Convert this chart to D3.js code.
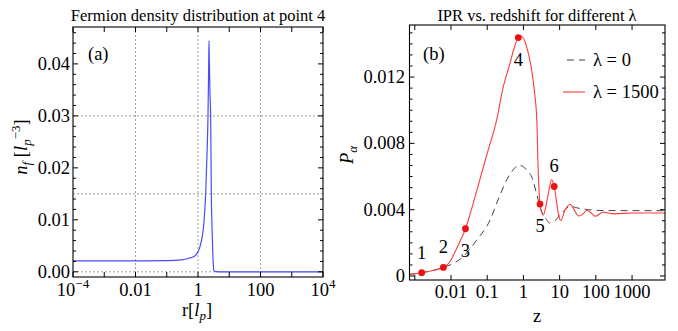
<!DOCTYPE html>
<html><head><meta charset="utf-8">
<script src="https://cdn.jsdelivr.net/npm/d3@7"></script>
</head>
<body style="margin:0;background:#fff"><svg id="c" width="678" height="331" font-family="Liberation Serif"></svg>
<script>
// ---------- DATA ----------
// Panel (a): fermion density n_f vs r
const rVals = [1e-4, 1e-3, 0.01, 0.1, 0.3, 0.51, 0.8, 0.95, 1.15, 1.37, 1.55, 1.76, 1.95, 2.09, 2.2, 2.25, 2.3, 2.4, 2.54, 2.67, 2.87, 3.05, 3.25, 3.6, 5, 10, 100, 1e4];
const nVals = [0.0021, 0.0021, 0.0021, 0.00215, 0.0023, 0.0026, 0.0031, 0.0036, 0.0048, 0.0068, 0.0095, 0.015, 0.023, 0.030, 0.040, 0.0445, 0.041, 0.035, 0.030, 0.015, 0.0068, 0.002, 0.0002, 0.00002, 0, 0, 0, 0];
const aXTicks = [1e-4, 1e-3, 0.01, 0.1, 1, 10, 100, 1000, 1e4];
const aXLabels = ["10^-4", "", "0.01", "", "1", "", "100", "", "10^4"];
const aYTicks = [0, 0.01, 0.02, 0.03, 0.04];
const aYLabels = ["0.00", "0.01", "0.02", "0.03", "0.04"];
const aGridX = [0.01, 1, 100];
const aGridY = [0, 0.015, 0.03];

// Panel (b): IPR vs redshift (log10 z)
const redLogZ = [-3.146, -2.81, -2.5, -2.21, -2.1, -2.03, -1.9, -1.75, -1.6, -1.52, -1.36, -1.0, -0.74, -0.555, -0.37, -0.25, -0.14, -0.05, 0.05, 0.15, 0.23, 0.3, 0.37, 0.41, 0.458, 0.51, 0.55, 0.62, 0.69, 0.78, 0.85, 0.92, 0.98, 1.03, 1.15, 1.29, 1.4, 1.52, 1.63, 1.75, 1.87, 1.98, 2.2, 2.5, 3.0, 3.91];
const redP    = [0.00010, 0.0002, 0.00033, 0.00052, 0.00068, 0.00086, 0.0014, 0.0021, 0.00285, 0.00338, 0.00459, 0.0074, 0.0094, 0.01142, 0.01283, 0.0138, 0.01438, 0.01445, 0.0141, 0.0133, 0.0124, 0.0112, 0.0094, 0.0062, 0.00434, 0.0038, 0.00368, 0.0042, 0.0050, 0.0058, 0.0054, 0.0044, 0.0036, 0.00335, 0.00398, 0.00433, 0.0040, 0.00362, 0.0037, 0.00398, 0.0038, 0.0036, 0.00385, 0.00375, 0.0038, 0.0038];
const blackLogZ = [-3.146, -2.81, -2.5, -2.21, -2.03, -1.7, -1.29, -0.92, -0.7, -0.46, -0.2, -0.14, 0.09, 0.26, 0.37, 0.5, 0.64, 0.72, 0.85, 1.06, 1.3, 1.5, 1.8, 2.2, 3.91];
const blackP    = [0.00010, 0.0002, 0.00033, 0.00052, 0.00066, 0.0011, 0.00217, 0.00338, 0.0046, 0.0058, 0.0066, 0.0067, 0.0064, 0.0058, 0.0049, 0.0039, 0.0034, 0.0032, 0.0033, 0.0038, 0.0042, 0.0041, 0.0040, 0.00395, 0.00394];
const markLogZ = [-2.81, -2.21, -1.6, -0.14, 0.458, 0.85];
const markP    = [0.0002, 0.00052, 0.00285, 0.01438, 0.00434, 0.0054];
const markNames = ["1", "2", "3", "4", "5", "6"];
const bXTicks = [0.001, 0.01, 0.1, 1, 10, 100, 1000];
const bXLabels = ["", "0.01", "0.1", "1", "10", "100", "1000"];
const bYTicks = [0, 0.004, 0.008, 0.012];
const bYLabels = ["0", "0.004", "0.008", "0.012"];
const legendNames = ["λ = 0", "λ = 1500"];

// ---------- DRAW ----------
const svg = d3.select("#c");
const FS = 18.5;
const TFS = 16.5;

function sciLabel(sel, s) {
  if (s.includes("^")) {
    const [b, e] = s.split("^");
    sel.append("tspan").text(b);
    sel.append("tspan").attr("dy", -8).attr("font-size", 13).text(e.replace("-", "\u2212"));
  } else sel.text(s);
}

function frameTicks(g, x, y, xt, yt, xMinor, yMinor) {
  const [x0, x1] = x.range(), [y0, y1] = y.range();
  const tk = (sel) => sel.attr("stroke", "#000").attr("stroke-width", 1);
  xt.forEach(v => {
    const px = x(v);
    tk(g.append("line").attr("x1", px).attr("x2", px).attr("y1", y0).attr("y2", y0 - 5));
    tk(g.append("line").attr("x1", px).attr("x2", px).attr("y1", y1).attr("y2", y1 + 5));
  });
  xMinor.forEach(v => {
    const px = x(v);
    tk(g.append("line").attr("x1", px).attr("x2", px).attr("y1", y0).attr("y2", y0 - 3));
    tk(g.append("line").attr("x1", px).attr("x2", px).attr("y1", y1).attr("y2", y1 + 3));
  });
  yt.forEach(v => {
    const py = y(v);
    tk(g.append("line").attr("x1", x0).attr("x2", x0 + 5).attr("y1", py).attr("y2", py));
    tk(g.append("line").attr("x1", x1).attr("x2", x1 - 5).attr("y1", py).attr("y2", py));
  });
  yMinor.forEach(v => {
    const py = y(v);
    tk(g.append("line").attr("x1", x0).attr("x2", x0 + 3).attr("y1", py).attr("y2", py));
    tk(g.append("line").attr("x1", x1).attr("x2", x1 - 3).attr("y1", py).attr("y2", py));
  });
  g.append("rect").attr("x", x0).attr("y", y1).attr("width", x1 - x0).attr("height", y0 - y1)
    .attr("fill", "none").attr("stroke", "#000").attr("stroke-width", 1.1);
}

// ---- Panel (a) ----
{
  const x = d3.scaleLog().domain([1e-4, 1e4]).range([73, 323]);
  const y = d3.scaleLinear().domain([-0.001, 0.0471]).range([277, 27]);
  const g = svg.append("g");
  const grid = g.append("g").attr("stroke", "#888").attr("stroke-width", 0.8).attr("stroke-dasharray", "2,2");
  aGridX.forEach(v => grid.append("line").attr("x1", x(v)).attr("x2", x(v)).attr("y1", 27).attr("y2", 277));
  aGridY.forEach(v => grid.append("line").attr("x1", 73).attr("x2", 323).attr("y1", y(v)).attr("y2", y(v)));

  const pts = rVals.map((r, i) => [r, nVals[i]]);
  g.append("path").datum(pts)
    .attr("d", d3.line().x(d => x(d[0])).y(d => y(d[1])).curve(d3.curveMonotoneX))
    .attr("fill", "none").attr("stroke", "#4a4aff").attr("stroke-width", 1.2);

  const yMinor = d3.range(0, 0.0461, 0.002).filter(v => Math.abs(v / 0.01 - Math.round(v / 0.01)) > 1e-6);
  frameTicks(g, x, y, aXTicks, aYTicks, [], yMinor);

  aYTicks.forEach((v, i) => g.append("text").attr("x", 70).attr("y", y(v) + 6)
    .attr("text-anchor", "end").attr("font-size", FS).text(aYLabels[i]));
  aXTicks.forEach((v, i) => {
    if (!aXLabels[i]) return;
    const t = g.append("text").attr("x", x(v)).attr("y", 296).attr("text-anchor", "middle").attr("font-size", FS);
    sciLabel(t, aXLabels[i]);
  });
  const xt = g.append("text").attr("x", 197).attr("y", 316).attr("text-anchor", "middle").attr("font-size", FS);
  xt.append("tspan").text("r[");
  xt.append("tspan").attr("font-style", "italic").text("l");
  xt.append("tspan").attr("dy", 4).attr("font-size", 13).attr("font-style", "italic").text("p");
  xt.append("tspan").attr("dy", -4).text("]");
  const yt = g.append("text").attr("transform", "translate(27,147) rotate(-90)").attr("text-anchor", "middle").attr("font-size", FS);
  yt.append("tspan").attr("font-style", "italic").text("n");
  yt.append("tspan").attr("dy", 4).attr("font-size", 13).attr("font-style", "italic").text("f");
  yt.append("tspan").attr("dy", -4).text(" [");
  yt.append("tspan").attr("font-style", "italic").text("l");
  yt.append("tspan").attr("dy", 4).attr("font-size", 13).attr("font-style", "italic").text("p");
  yt.append("tspan").attr("dy", -11).attr("font-size", 13).text("\u22123");
  yt.append("tspan").attr("dy", 7).text("]");

  g.append("text").attr("x", 198).attr("y", 21).attr("text-anchor", "middle").attr("font-size", TFS)
    .text("Fermion density distribution at point 4");
  g.append("text").attr("x", 88).attr("y", 60).attr("font-size", FS).text("(a)");
}

// ---- Panel (b) ----
{
  const x = d3.scaleLog().domain([Math.pow(10, -3.146), Math.pow(10, 3.91)]).range([409.5, 665]);
  const y = d3.scaleLinear().domain([-0.000241, 0.01514]).range([280, 25]);
  const g = svg.append("g");
  const line = d3.line().x(d => x(Math.pow(10, d[0]))).y(d => y(d[1])).curve(d3.curveMonotoneX);

  g.append("path").datum(blackLogZ.map((v, i) => [v, blackP[i]]))
    .attr("d", line).attr("fill", "none").attr("stroke", "#444").attr("stroke-width", 1)
    .attr("stroke-dasharray", "7,5");
  g.append("path").datum(redLogZ.map((v, i) => [v, redP[i]]))
    .attr("d", line).attr("fill", "none").attr("stroke", "#ff3b3b").attr("stroke-width", 1.1);

  markLogZ.forEach((v, i) => {
    g.append("circle").attr("cx", x(Math.pow(10, v))).attr("cy", y(markP[i])).attr("r", 3.4).attr("fill", "#ee1111");
  });
  const off = [-14, -14, 28, 28, 28, -14];
  markLogZ.forEach((v, i) => {
    g.append("text").attr("x", x(Math.pow(10, v))).attr("y", y(markP[i]) + off[i])
      .attr("text-anchor", "middle").attr("font-size", FS).text(markNames[i]);
  });

  const yMinor = [];
  for (let v = 0; v < 0.0151; v += 0.004 / 6) {
    if (Math.abs(v / 0.004 - Math.round(v / 0.004)) > 1e-6) yMinor.push(v);
  }
  frameTicks(g, x, y, bXTicks, bYTicks, [], yMinor);

  bYTicks.forEach((v, i) => g.append("text").attr("x", 405).attr("y", y(v) + 6)
    .attr("text-anchor", "end").attr("font-size", FS).text(bYLabels[i]));
  bXTicks.forEach((v, i) => {
    if (!bXLabels[i]) return;
    g.append("text").attr("x", x(v)).attr("y", 298).attr("text-anchor", "middle").attr("font-size", FS).text(bXLabels[i]);
  });
  g.append("text").attr("x", 537).attr("y", 322).attr("text-anchor", "middle").attr("font-size", FS).text("z");
  const yl = g.append("text").attr("transform", "translate(353,155) rotate(-90)").attr("text-anchor", "middle").attr("font-size", FS);
  yl.append("tspan").attr("font-style", "italic").text("P");
  yl.append("tspan").attr("dy", 4).attr("font-size", 13).attr("font-style", "italic").text("α");

  g.append("text").attr("x", 537).attr("y", 21).attr("text-anchor", "middle").attr("font-size", TFS)
    .text("IPR vs. redshift for different λ");
  g.append("text").attr("x", 423).attr("y", 60).attr("font-size", FS).text("(b)");

  const leg = [{ c: "#444", d: "7,5" }, { c: "#ff3b3b", d: null }];
  legendNames.forEach((nm, i) => {
    const ly = 60 + i * 32;
    const l = g.append("line").attr("x1", 563).attr("x2", 585).attr("y1", ly).attr("y2", ly)
      .attr("stroke", leg[i].c).attr("stroke-width", 1.1);
    if (leg[i].d) l.attr("stroke-dasharray", leg[i].d).attr("stroke-dashoffset", -4);
    g.append("text").attr("x", 593).attr("y", ly + 6).attr("font-size", FS).text(nm);
  });
}
svg.selectAll("text, tspan").attr("font-family", "Liberation Serif").style("font-family", "'Liberation Serif', serif");
</script></body></html>
